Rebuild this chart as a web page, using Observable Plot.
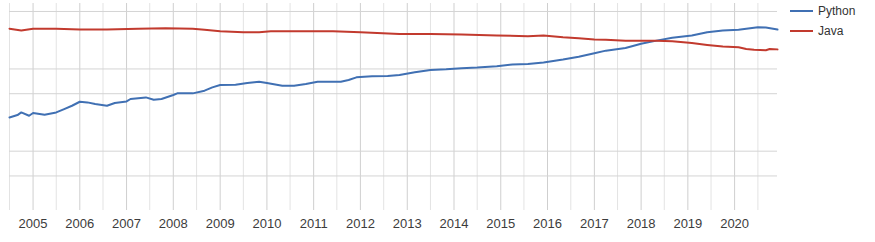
<!DOCTYPE html>
<html>
<head>
<meta charset="utf-8">
<script src="https://cdn.jsdelivr.net/npm/d3@7"></script>
<script src="https://cdn.jsdelivr.net/npm/@observablehq/plot@0.6"></script>
<style>
  html, body { margin: 0; padding: 0; background: #fff; }
  #wrap { position: relative; width: 875px; height: 242px; }
  .leg { position: absolute; left: 790px; font: 12px "Liberation Sans", Arial, sans-serif; color: #333; display: flex; align-items: center; height: 14px; }
  .leg .sw { width: 23px; height: 2px; margin-right: 5px; }
</style>
</head>
<body>
<div id="wrap"></div>
<script>
// Data (share of searches, %; log scale)
const pythonDates = ["2004-07","2004-09","2004-10","2004-12","2005-01","2005-04","2005-07","2005-09","2005-11","2006-01","2006-03","2006-05","2006-08","2006-10","2007-01","2007-02","2007-06","2007-08","2007-10","2008-01","2008-02","2008-06","2008-09","2008-11","2009-01","2009-05","2009-08","2009-11","2010-01","2010-05","2010-08","2010-11","2011-02","2011-08","2011-10","2011-12","2012-04","2012-08","2012-11","2013-03","2013-07","2013-11","2014-03","2014-07","2014-12","2015-04","2015-08","2015-12","2016-05","2016-09","2017-01","2017-04","2017-09","2018-01","2018-05","2018-09","2019-02","2019-06","2019-10","2020-02","2020-04","2020-07","2020-09","2020-12"];
const pythonValues = [2.57,2.75,2.96,2.70,2.91,2.77,2.96,3.25,3.57,3.99,3.92,3.74,3.57,3.85,4.03,4.31,4.51,4.22,4.31,4.82,5.05,5.05,5.44,5.97,6.38,6.44,6.75,7.00,6.75,6.26,6.26,6.57,7.00,7.00,7.35,7.90,8.13,8.22,8.45,9.10,9.73,9.89,10.2,10.4,10.8,11.3,11.5,12.0,13.0,14.1,15.5,16.7,18.0,20.2,22.1,23.9,25.5,28.0,29.3,29.9,30.8,32.2,31.9,30.2];
const javaDates = ["2004-07","2004-10","2005-01","2005-07","2006-01","2006-08","2007-04","2007-11","2008-06","2008-09","2009-01","2009-07","2009-11","2010-02","2010-10","2011-06","2012-01","2012-11","2013-07","2014-03","2014-12","2015-08","2015-12","2016-05","2016-09","2017-01","2017-04","2017-09","2018-01","2018-05","2018-09","2019-02","2019-06","2019-10","2020-02","2020-04","2020-06","2020-09","2020-10","2020-12"];
const javaValues = [30.8,29.3,30.8,30.8,30.2,30.2,30.8,31.3,30.8,29.9,28.8,28.0,28.0,28.8,28.8,28.8,28.0,26.7,26.7,26.2,25.5,25.0,25.5,24.3,23.6,22.8,22.6,22.1,22.1,22.1,21.7,20.7,19.6,18.7,18.4,17.5,17.1,16.9,17.5,17.3];
const yearTicks = ["2005","2006","2007","2008","2009","2010","2011","2012","2013","2014","2015","2016","2017","2018","2019","2020"];
const halfYearTicks = ["2004-07","2005-07","2006-07","2007-07","2008-07","2009-07","2010-07","2011-07","2012-07","2013-07","2014-07","2015-07","2016-07","2017-07","2018-07","2019-07","2020-07"];
const yGrid = [50, 10, 5, 1, 0.5];
const xDomain = ["2004-07", "2020-12"];
const yDomain = [0.19, 62.5];
const seriesNames = ["Python", "Java"];
const seriesColors = ["#4070b3", "#c23a2e"];

const pm = d3.utcParse("%Y-%m");
const py = d3.utcParse("%Y");
const python = pythonDates.map((d, i) => ({date: pm(d), value: pythonValues[i]}));
const java = javaDates.map((d, i) => ({date: pm(d), value: javaValues[i]}));

const chart = Plot.plot({
  width: 875,
  height: 242,
  marginLeft: 9,
  marginRight: 98,
  marginTop: 3,
  marginBottom: 32,
  style: {fontFamily: "'Liberation Sans', Arial, sans-serif", fontSize: "13px", color: "#3c3c3c", background: "transparent"},
  x: {type: "utc", domain: xDomain.map(pm), ticks: yearTicks.map(py), tickFormat: d3.utcFormat("%Y"), tickSize: 0, tickPadding: 8, label: null},
  y: {type: "log", domain: yDomain, axis: null},
  marks: [
    Plot.ruleX(halfYearTicks.map(pm), {stroke: "#e3e3e3", strokeWidth: 1}),
    Plot.ruleX(yearTicks.map(py), {stroke: "#cfcfcf", strokeWidth: 1}),
    Plot.ruleY(yGrid, {stroke: "#d4d4d4", strokeWidth: 1}),
    Plot.line(python, {x: "date", y: "value", stroke: seriesColors[0], strokeWidth: 2}),
    Plot.line(java, {x: "date", y: "value", stroke: seriesColors[1], strokeWidth: 2})
  ]
});

const wrap = document.getElementById("wrap");
wrap.appendChild(chart);
seriesNames.forEach((name, i) => {
  const item = document.createElement("div");
  item.className = "leg";
  item.style.top = (4 + i * 20) + "px";
  const sw = document.createElement("span");
  sw.className = "sw";
  sw.style.background = seriesColors[i];
  const t = document.createElement("span");
  t.textContent = name;
  item.appendChild(sw);
  item.appendChild(t);
  wrap.appendChild(item);
});
</script>
</body>
</html>
